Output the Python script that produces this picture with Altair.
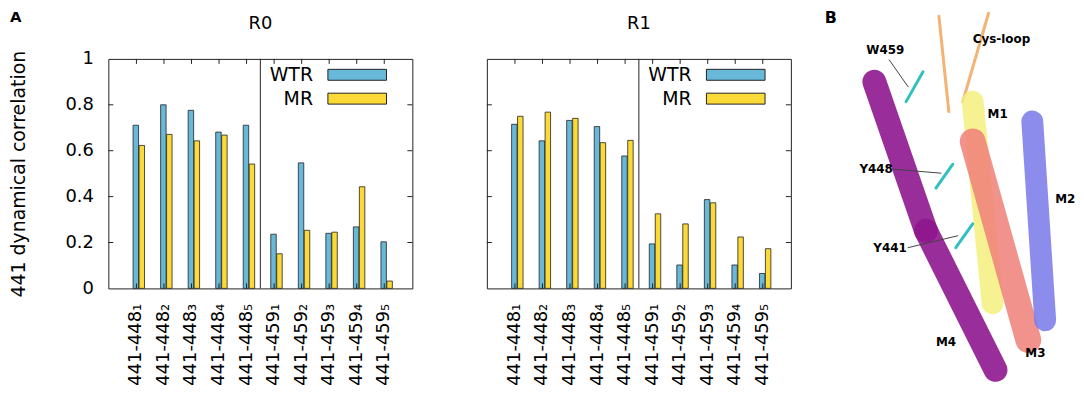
import altair as alt
import pandas as pd

# ---------------- data ----------------
PAIRS = ["441-448₁", "441-448₂", "441-448₃", "441-448₄", "441-448₅",
         "441-459₁", "441-459₂", "441-459₃", "441-459₄", "441-459₅"]
SERIES = ["WTR", "MR"]
COLORS = ["#68b8d9", "#fbd936"]
PANELS = ["R0", "R1"]

R0_WTR = [0.711, 0.800, 0.776, 0.681, 0.711, 0.236, 0.547, 0.240, 0.268, 0.203]
R0_MR = [0.623, 0.671, 0.643, 0.668, 0.542, 0.151, 0.253, 0.245, 0.443, 0.032]
R1_WTR = [0.715, 0.643, 0.732, 0.705, 0.577, 0.194, 0.102, 0.387, 0.102, 0.065]
R1_MR = [0.750, 0.768, 0.741, 0.635, 0.645, 0.325, 0.281, 0.373, 0.224, 0.173]

Y_TICKS = [0, 0.2, 0.4, 0.6, 0.8, 1.0]
Y_INNER_TICKS = [0.2, 0.4, 0.6, 0.8]

YLABEL = "441 dynamical correlation"

VALUES = {"R0": {"WTR": R0_WTR, "MR": R0_MR},
          "R1": {"WTR": R1_WTR, "MR": R1_MR}}

rows = []
for p in PANELS:
    for s in SERIES:
        for pair, v in zip(PAIRS, VALUES[p][s]):
            rows.append({"panel": p, "pair": pair, "series": s, "value": v})
df = pd.DataFrame(rows)

pairs_df = pd.DataFrame({"pair": PAIRS})
divider_df = pd.DataFrame({"pair": [PAIRS[5]]})
yticks_df = pd.DataFrame({"value": Y_INNER_TICKS})
one = pd.DataFrame({"k": [0]})

W, H = 306, 231
FONT = "DejaVu Sans"
FRAME = "#222222"

xscale = alt.Scale(paddingInner=0, paddingOuter=0.52)
yscale = alt.Scale(domain=[0, 1], nice=False)


def panel(name, show_y):
    d = df[df.panel == name]
    if show_y:
        yaxis = alt.Axis(values=Y_TICKS, format=".1~f", labelFontSize=18,
                         labelPadding=15, ticks=False, domain=False, grid=False,
                         title=YLABEL, titleFontSize=19, titleFontWeight="normal",
                         titlePadding=37, labelColor="#000", titleColor="#000")
    else:
        yaxis = alt.Axis(labels=False, ticks=False, domain=False, grid=False, title=None)
    xaxis = alt.Axis(labelAngle=270, labelAlign="right", labelBaseline="middle",
                     labelFontSize=18, labelPadding=15, ticks=False, domain=False,
                     grid=False, title=None, labelColor="#000")
    X = lambda **kw: alt.X("pair:N", sort=PAIRS, scale=xscale, axis=xaxis, **kw)
    Y = lambda: alt.Y("value:Q", scale=yscale, axis=yaxis)
    bars = alt.Chart(d).mark_bar(size=5.5, stroke=FRAME, strokeWidth=0.8).encode(
        x=X(),
        xOffset=alt.XOffset("series:N", sort=SERIES,
                            scale=alt.Scale(range=[10.25, 22.25], paddingInner=0, paddingOuter=0)),
        y=Y(),
        color=alt.Color("series:N", sort=SERIES,
                        scale=alt.Scale(domain=SERIES, range=COLORS), legend=None),
    )
    divider = alt.Chart(divider_df).mark_rule(color=FRAME, strokeWidth=1).encode(
        x=X(bandPosition=0), y=alt.value(0), y2=alt.value(H))
    top_ticks = alt.Chart(pairs_df).mark_rule(color=FRAME).encode(
        x=X(), y=alt.value(0), y2=alt.value(5))
    bot_ticks = alt.Chart(pairs_df).mark_rule(color=FRAME).encode(
        x=X(), y=alt.value(H), y2=alt.value(H - 5))
    left_ticks = alt.Chart(yticks_df).mark_rule(color=FRAME).encode(
        y=Y(), x=alt.value(0), x2=alt.value(5))
    right_ticks = alt.Chart(yticks_df).mark_rule(color=FRAME).encode(
        y=Y(), x=alt.value(W), x2=alt.value(W - 5))
    title = alt.Chart(one).mark_text(fontSize=18, baseline="middle", align="center",
                                     color="#000").encode(
        x=alt.value(W / 2), y=alt.value(-35), text=alt.value(name))
    legend_layers = []
    for i, (s, c) in enumerate(zip(SERIES, COLORS)):
        yc = 16 + i * 24
        legend_layers.append(alt.Chart(one).mark_rect(fill=c, stroke=FRAME, strokeWidth=1).encode(
            x=alt.value(221), x2=alt.value(280), y=alt.value(yc - 5.5), y2=alt.value(yc + 5.5)))
        legend_layers.append(alt.Chart(one).mark_text(fontSize=19, align="right",
                                                      baseline="middle", color="#000").encode(
            x=alt.value(206), y=alt.value(yc), text=alt.value(s)))
    layers = [bars, divider, top_ticks, bot_ticks, left_ticks, right_ticks, title] + legend_layers
    if show_y:
        layers.append(alt.Chart(one).mark_text(fontSize=15, fontWeight="bold", align="left",
                                               baseline="top", color="#000").encode(
            x=alt.value(-99), y=alt.value(-49), text=alt.value("A")))
    return alt.layer(*layers).properties(width=W, height=H)


# ---------------- panel B (schematic of the structure image) ----------------
def seg(x1, y1, x2, y2, color, width, opacity=1.0):
    return alt.Chart(one).mark_rule(color=color, strokeWidth=width, opacity=opacity,
                                    strokeCap="round").encode(
        x=alt.value(x1), y=alt.value(y1), x2=alt.value(x2), y2=alt.value(y2))


def lab(x, y, t, size=12, baseline="middle"):
    return alt.Chart(one).mark_text(fontSize=size, fontWeight="bold", align="left",
                                    baseline=baseline, color="#000").encode(
        x=alt.value(x), y=alt.value(y), text=alt.value(t))


b_layers = [
    seg(74, -43, 84, 53, "#f2b373", 3),
    seg(124, -46, 98, 43, "#f2b373", 3),
    seg(108, 43, 128, 246, "#f4f07e", 22, 0.85),
    seg(108, 83, 164, 283, "#f07f78", 26, 0.85),
    seg(168, 63, 181, 263, "#7878ea", 22, 0.85),
    seg(9, 23, 61, 173, "#8e168e", 24, 0.9),
    seg(61, 173, 131, 313, "#8e168e", 24, 0.9),
    seg(41, 43, 58, 13, "#30c0c0", 3),
    seg(71, 130, 88, 106, "#30c0c0", 3),
    seg(91, 190, 108, 166, "#30c0c0", 3),
    seg(24, 1, 43, 28, "#444", 1),
    seg(28, 111, 76, 115, "#444", 1),
    seg(43, 190, 93, 178, "#444", 1),
    lab(-41, -49, "B", 16, "top"),
    lab(108, -20, "Cys-loop"),
    lab(1, -9, "W459"),
    lab(123, 55, "M1"),
    lab(-6, 111, "Y448"),
    lab(191, 141, "M2"),
    lab(8, 190, "Y441"),
    lab(71, 285, "M4"),
    lab(161, 296, "M3"),
]
panel_b = alt.layer(*b_layers).properties(
    width=200, height=H, view=alt.ViewBackground(stroke="transparent"))

chart = alt.hconcat(panel("R0", True), panel("R1", False), panel_b,
                    spacing=75, bounds="flush").properties(padding=0).configure(
    font=FONT).configure_view(stroke=FRAME, strokeWidth=1)

chart.save("out.html", embed_options={"renderer": "svg", "actions": False})
